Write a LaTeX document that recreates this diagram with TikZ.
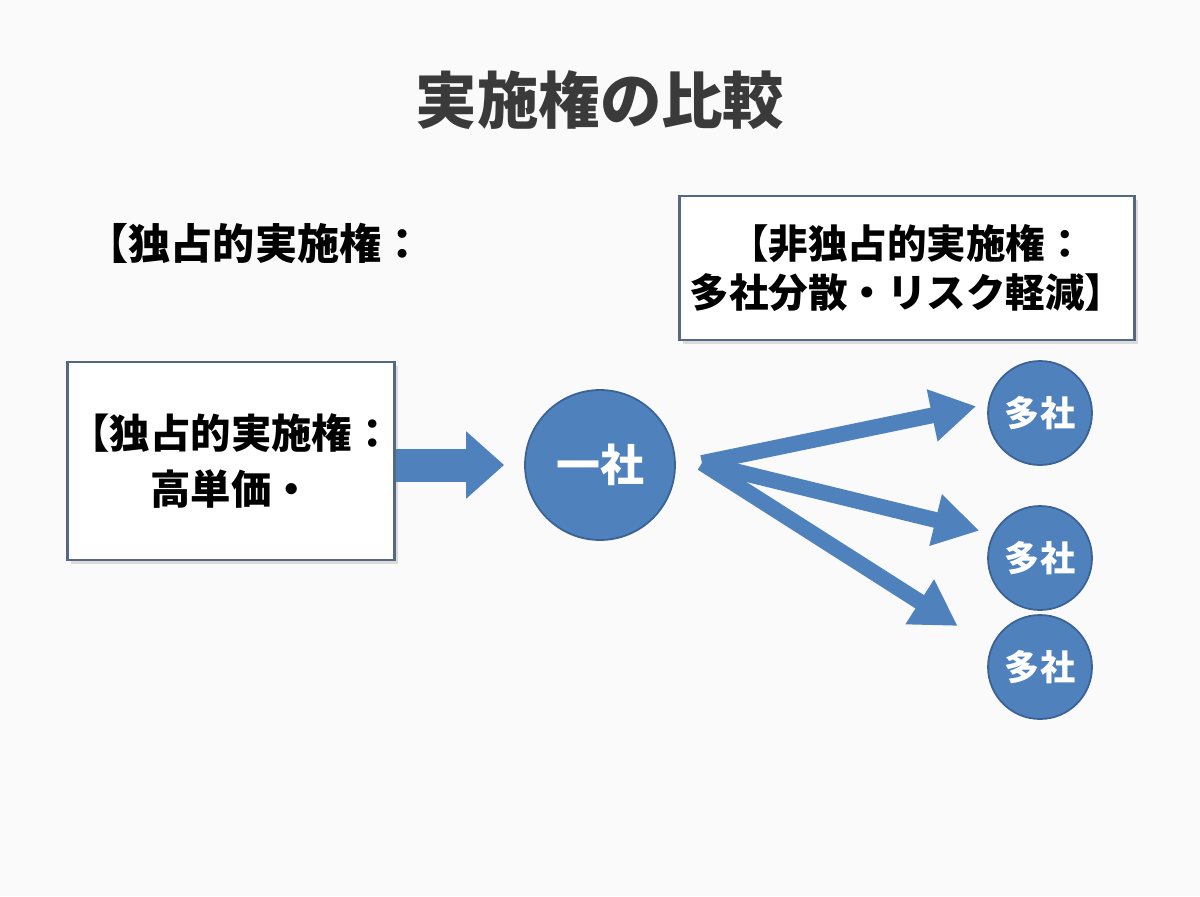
\documentclass[tikz,border=0pt]{standalone}
\usepackage{fontspec}
\setmainfont{Noto Sans CJK JP}
\usepackage{xcolor}
\definecolor{ipblue}{RGB}{79,129,189}
\definecolor{ipblueD}{RGB}{58,98,148}
\definecolor{ipframe}{RGB}{84,104,132}
\definecolor{iptitle}{RGB}{58,58,58}
\definecolor{ipbg}{RGB}{250,250,251}
\usetikzlibrary{arrows.meta,positioning,shadows}
\tikzset{
  lbox/.style={draw=ipframe, line width=1.6pt, fill=white, font=\fontsize{23}{32}\selectfont\bfseries,
               align=center, inner xsep=1pt,
               drop shadow={opacity=0.25, shadow xshift=2pt, shadow yshift=-2pt}},
  firm/.style={circle, draw=ipblueD, line width=1pt, fill=ipblue, text=white, inner sep=0pt,
               font=\bfseries, minimum size=#1},
  fanarrow/.style={-{Triangle[length=0.9cm, width=1.0cm]}, line width=9pt, ipblue},
}

\begin{document}
\begin{tikzpicture}[x=0.02cm, y=-0.02cm]
\fill[ipbg] (0,0) rectangle (1200,896);
\useasboundingbox (0,0) rectangle (1200,896);

% Title
\node[font=\fontsize{35}{40}\selectfont\bfseries, text=iptitle] (title) at (600,100) {実施権の比較};

% Left side: exclusive
\node[font=\fontsize{24}{28}\selectfont\bfseries] (exlabel) at (255,243) {【独占的実施権：};
\node[lbox, minimum width=6.54cm, minimum height=3.96cm] (exbox) at (231,461)
      {【独占的実施権：\\高単価・};
\node[firm=3cm, font=\fontsize{25}{30}\selectfont\bfseries] (one) at (600,465) {一社};

\draw[-{Triangle[length=0.76cm, width=1.3cm]}, line width=0.66cm, ipblue, shorten >=0.4cm]
      (exbox.east |- one) -- (one.west);

% Right side: non-exclusive
\node[lbox, font=\fontsize{22.5}{28}\selectfont\bfseries, minimum width=9.1cm, minimum height=2.88cm]
      (nexbox) at (907,268) {【非独占的実施権：\\多社分散・リスク軽減】};

\node[firm=2.08cm, font=\fontsize{20}{24}\selectfont\bfseries] (many1) at (1040,413) {多社};
\node[firm=2.08cm, font=\fontsize{20}{24}\selectfont\bfseries] (many2) at (1040,558) {多社};
\node[firm=2.08cm, font=\fontsize{20}{24}\selectfont\bfseries] (many3) at (1040,667) {多社};

% Fan of arrows
\coordinate (fan) at (702,463);
\draw[fanarrow, shorten >=0.24cm] (fan) -- (many1.170);
\draw[fanarrow, shorten >=0.28cm] (fan) -- (many2.153);
\draw[fanarrow, shorten >=0.79cm] (fan) -- (many3.158);
\end{tikzpicture}
\end{document}
